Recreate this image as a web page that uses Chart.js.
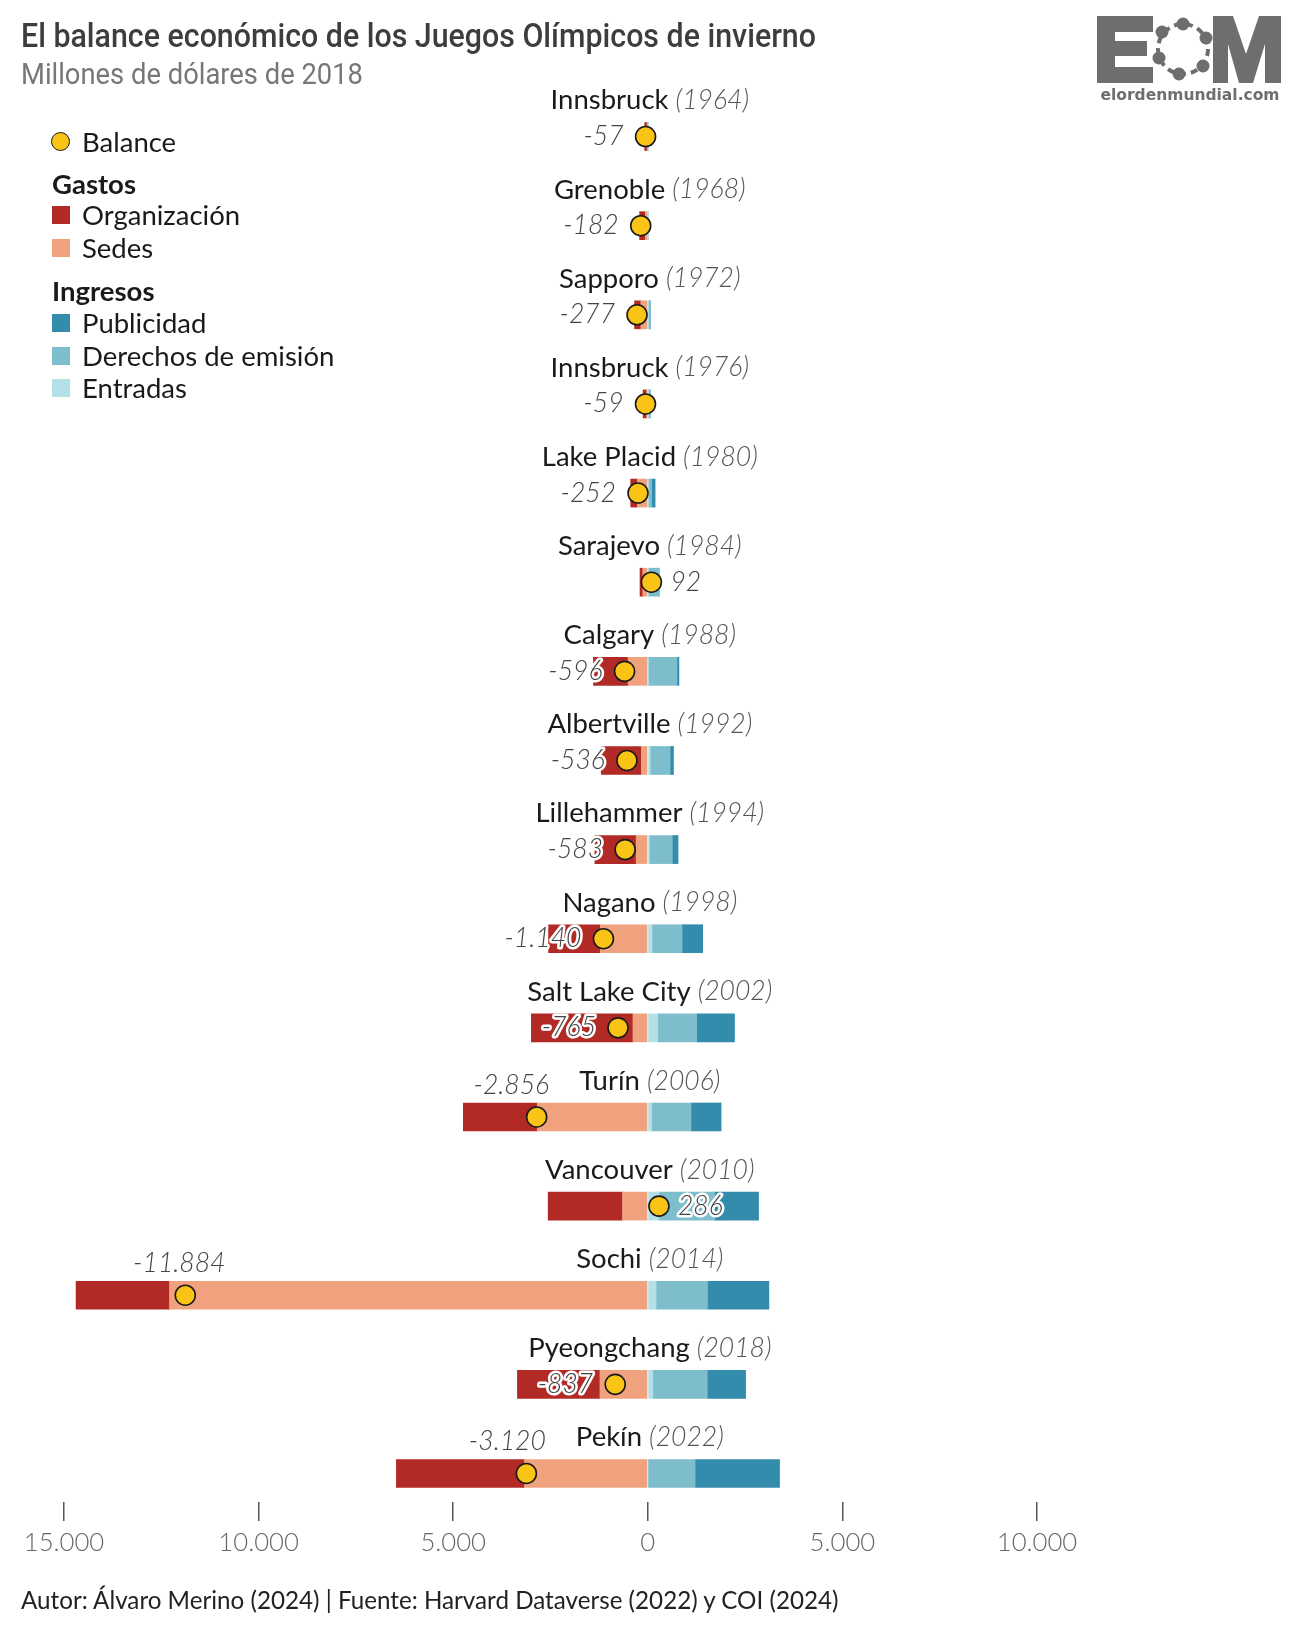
<!DOCTYPE html>
<html lang="es">
<head>
<meta charset="UTF-8">
<title>El balance económico de los Juegos Olímpicos de invierno</title>
<script src="https://cdn.jsdelivr.net/npm/chart.js"></script>
<style>
  body { margin: 0; background: #fff; font-family: Lato, "Open Sans", sans-serif; }
  #page { position: relative; width: 1300px; height: 1628px; overflow: hidden; }
  #wrap { position: absolute; left: 0; top: 0; width: 1300px; height: 1628px; }
  .title { position: absolute; left: 21px; top: 16px; font-family: Roboto, sans-serif; font-weight: 500; font-size: 33px; color: #3d3d3d; white-space: nowrap; transform-origin: 0 0; }
  .subtitle { position: absolute; left: 21px; top: 56px; font-family: Roboto, sans-serif; font-size: 30px; color: #777; white-space: nowrap; transform-origin: 0 0; }
  .leg { position: absolute; left: 52px; height: 32px; line-height: 32px; font-size: 27.5px; color: #1a1a1a; white-space: nowrap; }
  .leg .sw { position: absolute; left: 0; top: 7px; width: 18px; height: 18px; }
  .leg span.t { position: absolute; left: 30px; }
  .leg.head { font-weight: bold; }
  .dot { position: absolute; left: -1px; top: 6px; width: 17px; height: 17px; border-radius: 50%; background: #f9c416; border: 1.6px solid #1a1a1a; }
  .footer { position: absolute; left: 21px; top: 1585px; font-size: 24.2px; color: #222; white-space: nowrap; }
  #logo { position: absolute; left: 1095px; top: 14px; }
</style>
</head>
<body>
<div id="page">
  <div id="wrap"><canvas id="chart"></canvas></div>

  <div class="title" id="title">El balance económico de los Juegos Olímpicos de invierno</div>
  <div class="subtitle" id="subtitle">Millones de dólares de 2018</div>

  <div class="leg" style="top:126px"><div class="dot"></div><span class="t">Balance</span></div>
  <div class="leg head" style="top:168px">Gastos</div>
  <div class="leg" style="top:199px"><div class="sw" style="background:#b22a26"></div><span class="t">Organización</span></div>
  <div class="leg" style="top:232px"><div class="sw" style="background:#f0a27f"></div><span class="t">Sedes</span></div>
  <div class="leg head" style="top:275px">Ingresos</div>
  <div class="leg" style="top:307px"><div class="sw" style="background:#348cad"></div><span class="t">Publicidad</span></div>
  <div class="leg" style="top:340px"><div class="sw" style="background:#7dbdcc"></div><span class="t">Derechos de emisión</span></div>
  <div class="leg" style="top:372px"><div class="sw" style="background:#b3e0e6"></div><span class="t">Entradas</span></div>

  <svg id="logo" width="190" height="92" viewBox="0 0 190 92">
    <g fill="#6e6e6e">
      <path d="M2 2 H58 V18 H20 V27 H52 V42 H20 V53 H58 V69 H2 Z"/>
      <path d="M118 69 V2 H138 L151 40 L164 2 H186 V69 H170 V30 L158 69 H144 L133 30 V69 Z"/>
      <circle cx="88" cy="35" r="25" fill="none" stroke="#6e6e6e" stroke-width="4" stroke-dasharray="7 5"/>
      <circle cx="88" cy="10" r="6.5"/><circle cx="111" cy="24" r="6.5"/><circle cx="108" cy="52" r="6.5"/>
      <circle cx="84" cy="60" r="6.5"/><circle cx="64" cy="44" r="6.5"/><circle cx="67" cy="18" r="6.5"/>
      <text x="95" y="86" text-anchor="middle" font-family="DejaVu Sans" font-weight="bold" font-size="15.5">elordenmundial.com</text>
    </g>
  </svg>

  <div class="footer">Autor: Álvaro Merino (2024) | Fuente: Harvard Dataverse (2022) y COI (2024)</div>
</div>

<script>
// Juegos (de arriba abajo)
const sedesJuegos = ['Innsbruck', 'Grenoble', 'Sapporo', 'Innsbruck', 'Lake Placid', 'Sarajevo', 'Calgary', 'Albertville',
  'Lillehammer', 'Nagano', 'Salt Lake City', 'Turín', 'Vancouver', 'Sochi', 'Pyeongchang', 'Pekín'];
const anios = [1964, 1968, 1972, 1976, 1980, 1984, 1988, 1992, 1994, 1998, 2002, 2006, 2010, 2014, 2018, 2022];

// Gastos (millones de dólares de 2018)
const organizacion = [60, 140, 160, 90, 170, 70, 890, 1030, 1060, 1330, 2610, 1900, 1910, 2400, 2120, 3290];
const sedes = [20, 65, 180, 30, 270, 130, 506, 166, 300, 1220, 382, 2840, 650, 12290, 1230, 3170];

// Ingresos
const entradas = [5, 5, 10, 10, 10, 12, 10, 60, 40, 110, 257, 100, 285, 212, 128, 0];
const derechos = [15, 18, 50, 45, 90, 270, 740, 514, 590, 770, 1000, 1010, 1430, 1320, 1400, 1215];
const publicidad = [3, 0, 3, 6, 88, 10, 50, 86, 147, 530, 970, 774, 1131, 1580, 985, 2170];

// Balance
const balance = [-57, -182, -277, -59, -252, 92, -596, -536, -583, -1140, -765, -2856, 286, -11884, -837, -3120];

const ticksX = [-15000, -10000, -5000, 0, 5000, 10000];

// ajustar título y subtítulo al ancho del original
function fitWidth(id, w) {
  const el = document.getElementById(id);
  el.style.transform = 'scaleX(' + (w / el.getBoundingClientRect().width) + ')';
}
fitWidth('title', 795);
fitWidth('subtitle', 342);

function fmt(v) {
  const s = String(Math.abs(v)).replace(/\B(?=(\d{3})+(?!\d))/g, '.');
  return (v < 0 ? '-' : '') + s;
}

const toPts = (arr, sign) => arr.map((v, i) => ({ x: sign * v, y: i }));

const barDefaults = { type: 'bar', stack: 'juegos', barThickness: 28, borderWidth: 0, order: 1 };

// nombres encima de cada barra y etiquetas del balance
const labelsPlugin = {
  id: 'labels',
  afterDatasetsDraw(chart) {
    const ctx = chart.ctx;
    const xs = chart.scales.x, ys = chart.scales.y;
    const x0 = xs.getPixelForValue(0) + 2;
    ctx.save();
    ctx.textBaseline = 'middle';
    sedesJuegos.forEach((name, i) => {
      const y = ys.getPixelForValue(i);
      // nombre + año
      ctx.font = '27.5px Lato';
      const w1 = ctx.measureText(name + ' ').width;
      ctx.font = 'italic 300 26.5px Lato';
      const yr = '(' + anios[i] + ')';
      const w2 = ctx.measureText(yr).width;
      const left = x0 - (w1 + w2) / 2;
      ctx.textAlign = 'left';
      ctx.fillStyle = '#1a1a1a';
      ctx.font = '27.5px Lato';
      ctx.fillText(name, left, y - 36);
      ctx.fillStyle = '#555';
      ctx.font = 'italic 300 26.5px Lato';
      ctx.fillText(yr, left + w1, y - 36);

      // balance
      const b = balance[i];
      const bx = xs.getPixelForValue(b);
      const txt = fmt(b);
      ctx.font = 'italic 300 26.5px Lato';
      const tw = ctx.measureText(txt).width;
      let tx, ty = y, align;
      if (b > 0) {
        tx = bx + 19; align = 'left';
      } else if (b < -2000) {
        tx = Math.min(bx - 6, left - 30 - tw / 2); ty = y - 32; align = 'center';
      } else {
        tx = bx - 22; align = 'right';
      }
      ctx.textAlign = align;
      ctx.lineJoin = 'round';
      ctx.lineWidth = 5;
      ctx.strokeStyle = '#fff';
      ctx.strokeText(txt, tx, ty);
      ctx.fillStyle = '#444';
      ctx.fillText(txt, tx, ty);
    });
    ctx.restore();
  }
};

new Chart(document.getElementById('chart'), {
  data: {
    datasets: [
      { label: 'Balance', type: 'scatter', data: toPts(balance, 1), stack: 'bal', order: 0,
        pointRadius: 10, pointHoverRadius: 10, pointBackgroundColor: '#f9c416',
        pointBorderColor: '#1a1a1a', pointBorderWidth: 1.6 },
      Object.assign({ label: 'Sedes', data: toPts(sedes, -1), backgroundColor: '#f0a27f' }, barDefaults),
      Object.assign({ label: 'Organización', data: toPts(organizacion, -1), backgroundColor: '#b22a26' }, barDefaults),
      Object.assign({ label: 'Entradas', data: toPts(entradas, 1), backgroundColor: '#b3e0e6' }, barDefaults),
      Object.assign({ label: 'Derechos de emisión', data: toPts(derechos, 1), backgroundColor: '#7dbdcc' }, barDefaults),
      Object.assign({ label: 'Publicidad', data: toPts(publicidad, 1), backgroundColor: '#348cad' }, barDefaults)
    ]
  },
  options: {
    indexAxis: 'y',
    responsive: true,
    maintainAspectRatio: false,
    animation: false,
    devicePixelRatio: 1,
    layout: { padding: { left: 64, right: 263, top: 92, bottom: 0 } },
    plugins: { legend: { display: false }, tooltip: { enabled: false } },
    scales: {
      x: {
        type: 'linear',
        min: -15000,
        max: 10000,
        stacked: true,
        border: { display: false },
        grid: { drawOnChartArea: false, drawTicks: true, tickLength: 19, color: '#555', lineWidth: 1.5 },
        afterBuildTicks: s => { s.ticks = ticksX.map(v => ({ value: v })); },
        afterFit: s => { s.height = 126; },
        ticks: {
          padding: 6,
          color: '#666',
          font: { family: 'Lato', size: 25.7, weight: '300' },
          callback: v => v === 0 ? '0' : fmt(Math.abs(v))
        }
      },
      y: {
        type: 'linear',
        reverse: true,
        offset: false,
        min: -0.5,
        max: 15.32,
        stacked: true,
        display: false
      }
    }
  },
  plugins: [labelsPlugin]
});
</script>
</body>
</html>
